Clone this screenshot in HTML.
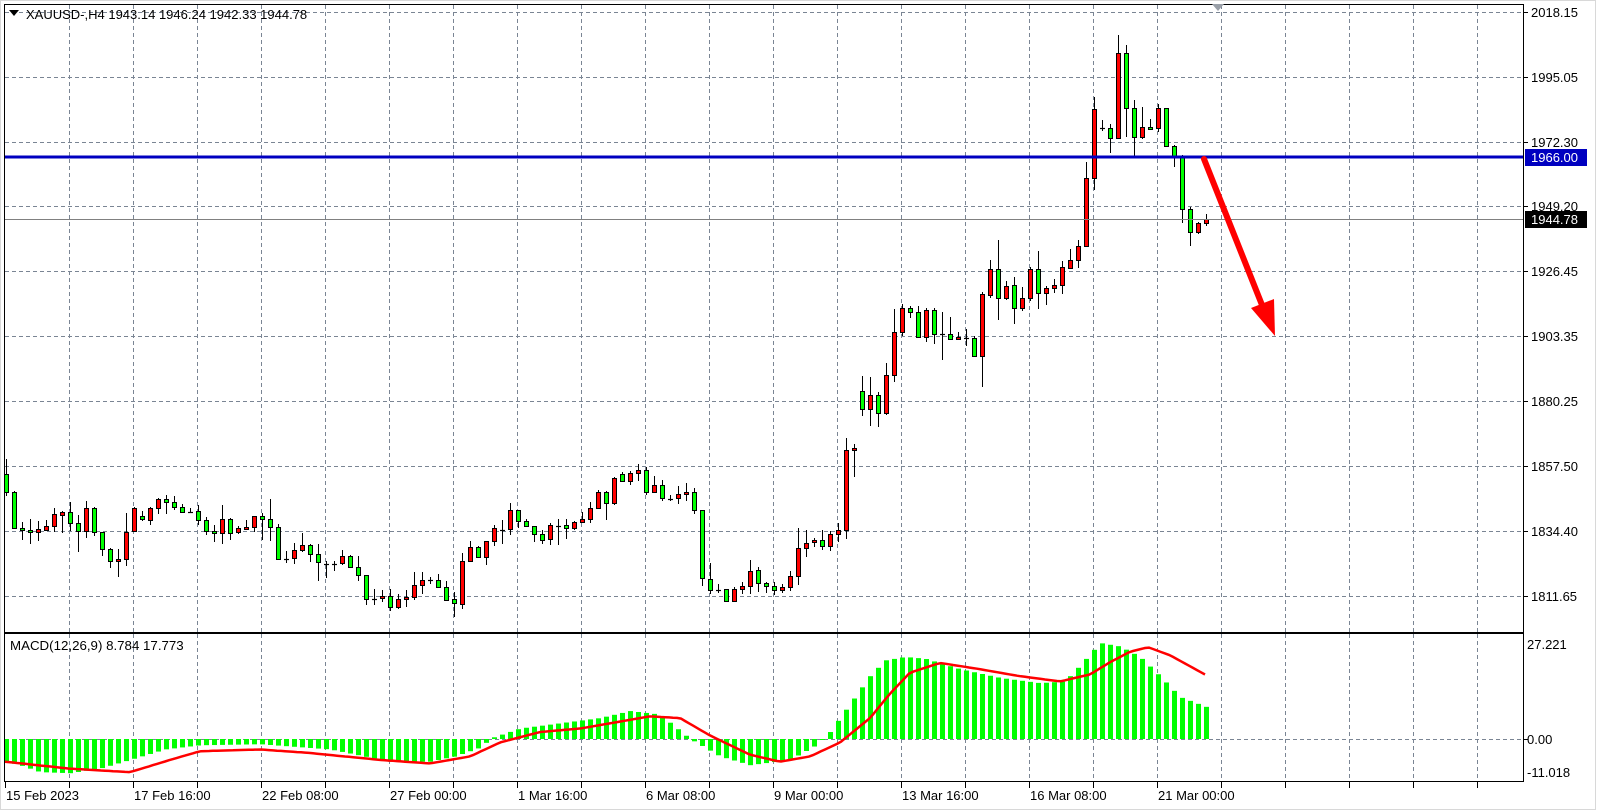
<!DOCTYPE html>
<html><head><meta charset="utf-8"><style>
html,body{margin:0;padding:0;background:#fff;}
svg{display:block;font-family:"Liberation Sans",sans-serif;}
text{font-size:13px;fill:#000;}
</style></head><body>
<svg id="s" width="1597" height="811" viewBox="0 0 1597 811" xmlns="http://www.w3.org/2000/svg">
<rect x="0" y="0" width="1597" height="811" fill="#fff"/>
<rect x="0.5" y="0.5" width="1595" height="809" fill="none" stroke="#d8d8d8"/>
<g id="grid" stroke="#7a8594" stroke-dasharray="4,3" stroke-width="1"></g>
<g id="macd"></g>
<g id="cand"></g>
<line x1="4" y1="219.5" x2="1523" y2="219.5" stroke="#808080" stroke-width="1"/>
<line x1="4" y1="157" x2="1523" y2="157" stroke="#0000c0" stroke-width="3"/>
<rect x="4.5" y="4.5" width="1519" height="628" fill="none" stroke="#000"/>
<rect x="4.5" y="633.5" width="1519" height="148" fill="none" stroke="#000"/>
<!-- red arrow -->
<line x1="1204" y1="159" x2="1264" y2="310" stroke="#ff0000" stroke-width="6" stroke-linecap="round"/>
<polygon points="1251,308 1274,299 1275,336" fill="#ff0000"/>
<polygon points="1212,4 1224,4 1218,11" fill="#9aa0a8"/>
<polygon points="9,10 19,10 14,16" fill="#000"/>
<text x="26" y="19">XAUUSD-,H4  1943.14 1946.24 1942.33 1944.78</text>
<text x="10" y="650" style="font-size:13.3px">MACD(12,26,9) 8.784 17.773</text>
<g id="ticks" stroke="#000"></g>
<text x="1531" y="17">2018.15</text>
<text x="1531" y="82">1995.05</text>
<text x="1531" y="147">1972.30</text>
<text x="1531" y="211">1949.20</text>
<text x="1531" y="276">1926.45</text>
<text x="1531" y="341">1903.35</text>
<text x="1531" y="406">1880.25</text>
<text x="1531" y="471">1857.50</text>
<text x="1531" y="536">1834.40</text>
<text x="1531" y="601">1811.65</text>
<rect x="1525" y="149" width="62" height="17" fill="#0000c0"/>
<text x="1531" y="162" style="fill:#fff">1966.00</text>
<rect x="1525" y="211" width="62" height="17" fill="#000"/>
<text x="1531" y="224" style="fill:#fff">1944.78</text>
<text x="1527" y="649">27.221</text>
<text x="1527" y="744">0.00</text>
<text x="1527" y="777">-11.018</text>
<text x="6" y="800">15 Feb 2023</text>
<text x="134" y="800">17 Feb 16:00</text>
<text x="262" y="800">22 Feb 08:00</text>
<text x="390" y="800">27 Feb 00:00</text>
<text x="518" y="800">1 Mar 16:00</text>
<text x="646" y="800">6 Mar 08:00</text>
<text x="774" y="800">9 Mar 00:00</text>
<text x="902" y="800">13 Mar 16:00</text>
<text x="1030" y="800">16 Mar 08:00</text>
<text x="1158" y="800">21 Mar 00:00</text>
</svg>
<script>
var NS="http://www.w3.org/2000/svg";
function el(p,t,a){var e=document.createElementNS(NS,t);for(var k in a)e.setAttribute(k,a[k]);p.appendChild(e);return e;}
var grid=document.getElementById('grid'),ticks=document.getElementById('ticks');
var hy=[12,77,142,206,271,336,401,466,531,596];
hy.forEach(function(y){el(grid,'line',{x1:5,y1:y+.5,x2:1523,y2:y+.5});el(ticks,'line',{x1:1523,y1:y+.5,x2:1528,y2:y+.5});});
el(grid,'line',{x1:5,y1:739.5,x2:1523,y2:739.5});el(ticks,'line',{x1:1523,y1:739.5,x2:1528,y2:739.5});
for(var x=69;x<1523;x+=64){el(grid,'line',{x1:x+.5,y1:5,x2:x+.5,y2:632});el(grid,'line',{x1:x+.5,y1:634,x2:x+.5,y2:781});}
for(var x=5;x<1523;x+=64){el(ticks,'line',{x1:x+.5,y1:782,x2:x+.5,y2:788});}
var Z6=[['G',72,127,28,137],['G',127,235,124,238],['G',235,241,216,270],['G',241,247,207,281],['R',238,247,213,273],['R',229,239,210,242],['R',193,229,175,245],['R',187,196,183,248],['G',187,220,156,243],['G',220,244,195,305],['R',175,244,153,263],['G',175,247,172,257],['G',247,298,245,317],['G',298,334,295,353],['R',327,334,297,380],['R',247,328,189,347],['R',175,244,172,246],['G',199,208,183,213],['R',175,211,172,225],['R',148,175,145,191],['G',148,157,135,191],['G',157,172,138,179],['G',172,187,163,190],['D',185,185,175,188],['G',184,211,165,224],['G',211,244,201,254],['G',244,250,225,276],['R',208,250,165,281],['G',208,250,205,269],['R',235,247,229,251],['R',232,236,210,241],['R',199,232,197,246],['G',199,208,190,269],['G',208,232,148,272],['G',232,328,222,328],['D',326,326,304,338],['R',301,325,280,341],['R',286,301,249,305],['G',286,313,283,335],['G',313,337,283,392],['D',341,341,334,383],['D',341,341,334,362],['R',319,340,300,344],['G',319,352,314,353],['G',352,376,318,392]];
var Z7=[['G',376,448,376,464],['D',447,447,418,464],['R',439,445,421,455],['G',439,472,418,482],['R',448,472,433,478],['R',442,448,421,470],['R',406,442,367,451],['R',391,406,367,431],['D',390,390,382,403],['G',391,412,373,413],['G',412,451,394,453],['G',448,460,427,500],['R',334,463,310,476],['R',292,334,273,335],['G',292,322,289,324],['R',274,322,273,344],['R',235,274,226,287],['D',239,239,211,281],['R',181,238,160,254],['G',181,214,181,233],['G',214,229,208,231],['G',229,253,229,275],['G',253,271,241,281],['R',226,268,220,284],['D',227,227,208,284],['G',226,235,208,266],['R',217,235,214,241],['R',208,217,187,218],['R',175,208,157,218],['R',127,175,121,176],['G',127,160,124,209],['R',85,160,82,166],['G',73,94,67,94],['R',70,94,64,106],['R',61,70,43,92],['G',61,127,52,136],['R',106,127,78,130],['G',106,145,91,152],['D',146,146,136,152],['R',133,145,109,163],['R',127,133,100,154],['G',127,181,115,191],['G',181,385,181,407],['G',388,421,340,431]];
var Z8=[['D',929,929,912,940],['G',928,964,928,967],['R',928,964,922,964],['R',919,928,907,943],['R',874,919,840,943],['G',871,910,862,936],['G',910,919,907,940],['G',919,931,907,946],['R',922,931,913,940],['R',889,922,874,932],['R',805,889,745,916],['R',790,805,751,832],['R',781,787,775,802],['G',781,799,751,811],['R',763,799,754,814],['R',751,763,730,787],['R',511,751,475,778],['R',505,511,493,590],['G',334,388,289,407],['R',346,388,292,437],['G',346,400,337,440],['R',286,400,249,406],['R',157,286,88,307],['R',85,157,73,169],['G',85,97,79,115],['G',97,172,79,175],['R',91,172,85,187],['G',91,163,85,193],['D',162,162,97,239],['G',163,178,112,180],['R',172,178,157,180],['D',173,173,148,199],['G',175,229,169,232]];
var data=[];
Z6.forEach(function(d){data.push([d[0],450+d[1]/3,450+d[2]/3,450+d[3]/3,450+d[4]/3]);});
Z7.forEach(function(d){data.push([d[0],450+d[1]/3,450+d[2]/3,450+d[3]/3,450+d[4]/3]);});
Z8.forEach(function(d){data.push([d[0],280+d[1]/3,280+d[2]/3,280+d[3]/3,280+d[4]/3]);});
var Z9=[['R',294,356,292,387],['R',269,295,260,298],['G',269,298,240,320],['R',286,298,281,300],['G',285,308,277,324],['R',298,308,287,311],['R',269,298,267,301],['G',269,293,251,309],['R',288,293,286,305],['R',285,288,279,293],['R',267,285,261,294],['R',260,268,249,269],['R',246,260,240,268],['R',178,246,162,247],['R',109,178,97,190],['D',128,128,120,131],['G',128,138,124,153],['R',53,138,35,139],['G',53,108,45,137],['G',108,137,100,156],['R',127,137,107,139],['G',127,129,119,130],['R',108,128,104,132],['G',108,146,108,147],['G',146,156,145,167],['G',156,209,155,223],['G',209,232,207,246],['R',223,232,222,234],['R',219,223,214,226]];
Z9.forEach(function(d){data.push(d);});
var cg=document.getElementById('cand');
data.forEach(function(d,i){
 var cx=6+8*i;
 el(cg,'line',{x1:cx+.5,y1:Math.round(d[3]),x2:cx+.5,y2:Math.round(d[4]),stroke:'#000','stroke-width':1});
 var t=Math.round(d[1]),b=Math.round(d[2]);
 if(d[0]=='D'||b-t<1){el(cg,'line',{x1:cx-2,y1:t+.5,x2:cx+3,y2:t+.5,stroke:'#000','stroke-width':1.2});}
 else el(cg,'rect',{x:cx-1.5,y:t+.5,width:4,height:b-t,fill:d[0]=='R'?'#ff0000':'#00ff00',stroke:'#000','stroke-width':1});
});
function interp(pts,x){if(x<=pts[0][0])return pts[0][1];for(var k=1;k<pts.length;k++){if(x<=pts[k][0]){var a=pts[k-1],b=pts[k];return a[1]+(b[1]-a[1])*(x-a[0])/(b[0]-a[0]);}}return pts[pts.length-1][1];}
var H=[[5,-6.5],[20,-7.5],[40,-9.5],[70,-9.8],[100,-8.5],[130,-6],[165,-3],[200,-1.8],[260,-1.5],[330,-3],[390,-6.5],[430,-6.5],[455,-5],[480,-2.5],[492,0.3],[520,3],[560,4.5],[600,6],[630,8],[660,7],[690,0],[720,-5],[750,-7.5],[790,-6],[815,-2],[830,2],[850,10],[870,18],[885,22.5],[905,23.5],[925,23],[960,20],[1000,17.5],[1040,16],[1065,16.5],[1080,21],[1100,27.5],[1120,26.5],[1140,23.5],[1160,18],[1180,12],[1208,9]];
var S=[[5,-6.5],[70,-8.5],[130,-9.5],[170,-6],[200,-3.5],[260,-3],[310,-4],[380,-6],[430,-7],[470,-5],[500,-1],[540,2],[580,3],[620,5],[650,6.5],[680,6],[710,1],[750,-4.5],[780,-6.5],[810,-5],[840,-1],[870,6],[890,13],[910,19],[940,21.8],[980,20],[1020,18],[1060,16.5],[1090,18.5],[1110,22],[1130,25],[1148,26.3],[1170,24],[1208,18]];
var mg=document.getElementById('macd');
function my(v){return 739-v*3.49;}
for(var i=0;i<data.length;i++){
 var cx=6+8*i,v=interp(H,cx);
 var y0=my(0),y1=my(v);
 el(mg,'rect',{x:cx-2,y:Math.min(y0,y1),width:5,height:Math.max(1,Math.abs(y1-y0)),fill:'#00ff00'});
}
var pts=[];for(var x=5;x<=1208;x+=4){pts.push(x+','+my(interp(S,x)).toFixed(1));}
el(mg,'polyline',{points:pts.join(' '),fill:'none',stroke:'#ff0000','stroke-width':2.5});
</script>
</body></html>
